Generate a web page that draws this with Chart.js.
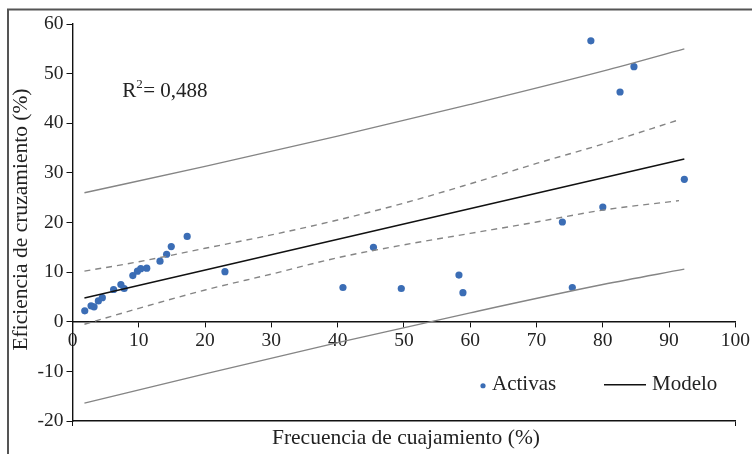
<!DOCTYPE html>
<html>
<head>
<meta charset="utf-8">
<script src="https://cdn.jsdelivr.net/npm/chart.js@4.4.1/dist/chart.umd.min.js"></script>
<style>
  html, body { margin: 0; padding: 0; background: #fff; }
  canvas { display: block; }
</style>
</head>
<body>
<canvas id="chart" width="752" height="454"></canvas>
<script>
// Activas: frecuencia de cuajamiento (x) vs eficiencia de cruzamiento (y)
const frecuencia = [1.85, 2.8, 3.25, 3.9, 4.5, 6.2, 7.3, 7.8, 9.1, 9.8, 10.3, 11.2, 13.2, 14.2, 14.9, 17.3, 23.0,
                    40.8, 45.4, 49.6, 58.3, 58.9, 73.9, 75.4, 78.2, 80.0, 82.6, 84.7, 92.3];
const eficiencia = [2.2, 3.2, 3.0, 4.2, 4.85, 6.5, 7.5, 6.7, 9.3, 10.2, 10.7, 10.8, 12.2, 13.6, 15.15, 17.2, 10.1,
                    6.9, 15.0, 6.7, 9.4, 5.86, 20.1, 6.9, 56.6, 23.1, 46.3, 51.4, 28.7];

// Modelo (recta ajustada)
const modeloX = [1.8, 92.3];
const modeloY = [4.8, 32.8];

// Intervalo de confianza (discontinuo)
const confX = [1.8, 10, 20, 30, 40, 50, 60, 70, 80, 91.5];
const confSup = [10.2, 12.1, 14.8, 17.5, 20.5, 23.9, 27.8, 31.9, 35.8, 40.7];
const confInf = [-0.5, 2.7, 6.4, 9.6, 12.9, 15.5, 17.8, 20.1, 22.5, 24.4];

// Intervalo de predicción (gris continuo)
const predX = [1.8, 20, 40, 60, 80, 92.3];
const predSup = [26.0, 31.3, 37.4, 43.8, 50.5, 55.0];
const predInf = [-16.4, -10.5, -4.2, 1.8, 7.5, 10.6];

const xTicks = [0, 10, 20, 30, 40, 50, 60, 70, 80, 90, 100];
const yTicks = [-20, -10, 0, 10, 20, 30, 40, 50, 60];
const r2Text = '0,488';

const FONT = "'Liberation Serif', 'Times New Roman', serif";
const BLUE = '#3b6db5';
const GREY = '#858585';

const pts = (xs, ys) => xs.map((x, i) => ({ x: x, y: ys[i] }));

// textos, marco y leyenda
const extras = {
    id: 'extras',
    afterDraw(chart) {
        const c = chart.ctx;
        const ca = chart.chartArea;
        const sx = chart.scales.x, sy = chart.scales.y;
        c.save();
        // marco exterior
        c.strokeStyle = '#555';
        c.lineWidth = 2;
        c.beginPath();
        c.moveTo(8, 454);
        c.lineTo(8, 9.5);
        c.lineTo(752, 9.5);
        c.stroke();

        c.fillStyle = '#222';
        c.font = '21.5px ' + FONT;
        // titulo eje x
        c.textAlign = 'center';
        c.textBaseline = 'middle';
        c.fillText('Frecuencia de cuajamiento (%)', (ca.left + ca.right) / 2 + 2, 438);
        // titulo eje y
        c.save();
        c.translate(21, (ca.top + ca.bottom) / 2 - 3);
        c.rotate(-Math.PI / 2);
        c.fillText('Eficiencia de cruzamiento (%)', 0, 0);
        c.restore();

        // R²
        c.textAlign = 'left';
        c.textBaseline = 'alphabetic';
        const rx = sx.getPixelForValue(7.5), ry = sy.getPixelForValue(45.3);
        c.font = '21px ' + FONT;
        c.fillText('R', rx, ry);
        const rw = c.measureText('R').width;
        c.font = '13px ' + FONT;
        c.fillText('2', rx + rw, ry - 9);
        c.font = '21px ' + FONT;
        c.fillText('= ' + r2Text, rx + rw + 7, ry);

        // leyenda
        const ly = sy.getPixelForValue(-12.7);
        c.fillStyle = BLUE;
        c.beginPath();
        c.arc(483, ly + 1, 2.6, 0, Math.PI * 2);
        c.fill();
        c.fillStyle = '#222';
        c.textBaseline = 'middle';
        c.fillText('Activas', 492, ly);
        c.strokeStyle = '#111';
        c.lineWidth = 1.3;
        c.beginPath();
        c.moveTo(604, ly);
        c.lineTo(646, ly);
        c.stroke();
        c.fillText('Modelo', 652, ly);
        c.restore();
    }
};

const bandStyle = (dashed, color) => ({
    type: 'line', showLine: true, pointRadius: 0, pointHoverRadius: 0,
    borderColor: color, borderWidth: 1.4, borderDash: dashed ? [6, 5] : [], fill: false,
    cubicInterpolationMode: 'monotone'
});

new Chart(document.getElementById('chart'), {
    type: 'scatter',
    data: {
        datasets: [
            Object.assign({ label: 'predSup', data: pts(predX, predSup) }, bandStyle(false, GREY)),
            Object.assign({ label: 'predInf', data: pts(predX, predInf) }, bandStyle(false, GREY)),
            Object.assign({ label: 'confSup', data: pts(confX, confSup) }, bandStyle(true, GREY)),
            Object.assign({ label: 'confInf', data: pts(confX, confInf) }, bandStyle(true, GREY)),
            Object.assign({ label: 'Modelo', data: pts(modeloX, modeloY) }, bandStyle(false, '#111'), { borderWidth: 1.5 }),
            {
                label: 'Activas', data: pts(frecuencia, eficiencia),
                pointRadius: 3.6, pointBackgroundColor: BLUE, pointBorderWidth: 0, pointBorderColor: BLUE
            }
        ]
    },
    options: {
        responsive: false,
        animation: false,
        devicePixelRatio: 1,
        layout: { padding: { left: 0, right: 16, top: 24, bottom: 33 } },
        plugins: { legend: { display: false }, tooltip: { enabled: false } },
        scales: {
            x: {
                type: 'linear', min: 0, max: 100,
                position: { y: 0 },
                afterBuildTicks: s => { s.ticks = xTicks.map(v => ({ value: v })); },
                grid: { drawOnChartArea: false, tickLength: 5, tickColor: '#111' },
                border: { color: '#111', width: 1.4 },
                ticks: { color: '#222', font: { family: FONT, size: 19.5 }, padding: 2, maxRotation: 0, autoSkip: false }
            },
            x2: {
                type: 'linear', min: 0, max: 100, position: 'bottom',
                afterBuildTicks: s => { s.ticks = [{ value: 0 }, { value: 100 }]; },
                afterFit: s => { s.height = 0; },
                grid: { drawOnChartArea: false, tickLength: 5, tickColor: '#111' },
                border: { color: '#111', width: 1.4 },
                ticks: { display: false }
            },
            y: {
                type: 'linear', min: -20, max: 60, position: 'left',
                afterBuildTicks: s => { s.ticks = yTicks.map(v => ({ value: v })); },
                afterFit: s => { s.width = 72.5; },
                grid: { drawOnChartArea: false, tickLength: 6, tickColor: '#111' },
                border: { color: '#111', width: 1.4 },
                ticks: { color: '#222', font: { family: FONT, size: 19.5 }, padding: 3 }
            }
        }
    },
    plugins: [extras]
});
</script>
</body>
</html>
